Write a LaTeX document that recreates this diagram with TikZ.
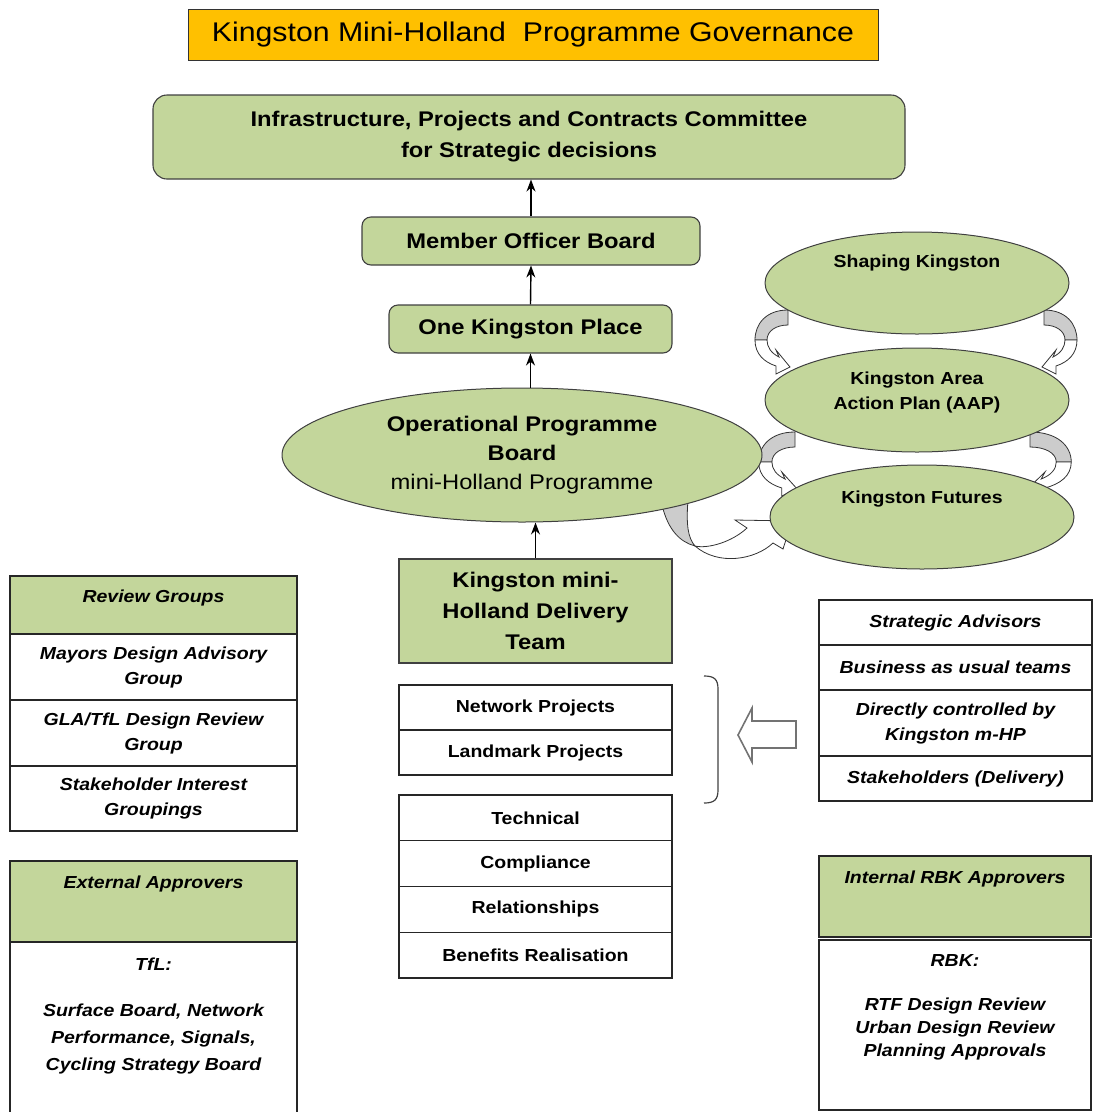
\documentclass[tikz,border=0pt]{standalone}
\usepackage{fontspec}
\setmainfont[FakeStretch=1.12]{Liberation Sans}
\usetikzlibrary{shapes.geometric,positioning,arrows.meta}

\definecolor{kgreen}{HTML}{C3D69B}
\definecolor{korange}{HTML}{FFC000}

\newcommand{\ftitle}{\fontsize{27}{32}\selectfont}
\newcommand{\fbig}{\fontsize{21.2}{31}\selectfont\bfseries}
\newcommand{\fopb}{\fontsize{21.2}{29}\selectfont}
\newcommand{\fsmall}{\fontsize{17.4}{25}\selectfont\bfseries}
\newcommand{\fital}{\fontsize{17.4}{25}\selectfont\bfseries\itshape}

\tikzstyle{titlebox} = [draw=black!80, rectangle, fill=korange, minimum width=690pt, minimum height=51pt, font=\ftitle, line width=1pt]
\tikzstyle{block} = [draw=black!75, rectangle, rounded corners=9pt, fill=kgreen, align=center, font=\fbig, line width=1.1pt]
\tikzstyle{ellip} = [draw=black!75, ellipse, fill=kgreen, align=center, inner sep=0pt, line width=1pt]
\tikzstyle{cell} = [draw=black!85, rectangle, fill=white, minimum width=273pt, minimum height=45pt, align=center, font=\fsmall, outer sep=0pt, inner sep=0pt, line width=1.1pt]
\tikzstyle{rcell} = [cell, font=\fital]
\tikzstyle{grp} = [cell, minimum width=287pt, minimum height=66pt, font=\fital]
\tikzstyle{hdr} = [grp, fill=kgreen]
\tikzstyle{lbl} = [anchor=north, inner sep=0pt, align=center, font=\fital]
\tikzstyle{arr} = [-{Stealth[length=12pt,width=9pt]}, line width=1.4pt]

% twisted block arrow between two ellipses
\newcommand{\turnarrow}[3]{%
  \begin{scope}[shift={(#1,#2)}, xscale=#3, line width=0.8pt]
    \filldraw[fill=black!20, draw=black!80] (0,0) .. controls (-22,0) and (-33,14) .. (-33,30) -- (-21,30) .. controls (-21,21) and (-12,15) .. (0,15) -- cycle;
    \filldraw[fill=white, draw=black!80] (-33,30) .. controls (-33,44) and (-24,52) .. (-12,56) -- (-12,64) -- (2,57) -- (-12,40) -- (-9,47) .. controls (-17,43) and (-21,37) .. (-21,30) -- cycle;
  \end{scope}}

\begin{document}
\begin{tikzpicture}[x=1pt, y=-1pt, line width=1.1pt]
\useasboundingbox (0,0) rectangle (1093,1112);

% arrows under the ellipses
\turnarrow{788}{310}{1}
\turnarrow{1044}{310}{-1}
\turnarrow{795}{432}{1.1}
\turnarrow{1030}{432}{-1.25}
\filldraw[fill=black!20, draw=black!80, line width=0.8pt] (662,505) -- (688,500) .. controls (686,525) and (688,538) .. (695,546) .. controls (680,542) and (668,530) .. (662,505) -- cycle;
\filldraw[fill=white, draw=black!80, line width=0.8pt] (695,546) .. controls (708,549) and (732,542) .. (747,528) -- (735,520) -- (792,521) -- (783,549) -- (773,543) .. controls (755,560) and (718,566) .. (695,546) -- cycle;

\node[titlebox] (title) at (533,35) {Kingston Mini-Holland\ \ Programme Governance};

\node[block, minimum width=752pt, minimum height=84pt, rounded corners=14pt] (ipcc) at (529,137) {Infrastructure, Projects and Contracts Committee\\for Strategic decisions};
\node[block, minimum width=338pt, minimum height=48pt] (mob) at (531,241) {Member Officer Board};
\node[block, minimum width=283pt, minimum height=48pt] (okp) at (530.5,329) {One Kingston Place};
\node[ellip, minimum width=480pt, minimum height=134pt, font=\fopb] (opb) at (522,455) {\textbf{Operational Programme}\\\textbf{Board}\\mini-Holland Programme};
\node[block, sharp corners, minimum width=273pt, minimum height=104pt] (team) at (535.5,611) {Kingston mini-\\Holland Delivery\\Team};

\node[ellip, minimum width=304pt, minimum height=102pt, label={[font=\fsmall, yshift=20pt]center:Shaping Kingston}] (shapek) at (917,283) {};
\node[ellip, minimum width=304pt, minimum height=104pt, label={[font=\fsmall, align=center, yshift=8pt]center:{Kingston Area\\Action Plan (AAP)}}] (aap) at (917,400) {};
\node[ellip, minimum width=304pt, minimum height=104pt, label={[font=\fsmall, yshift=18pt]center:Kingston Futures}] (futk) at (922,517) {};

\draw[arr] (opb.north -| okp.south) -- (okp.south);
\draw[arr] (okp.north) -- (mob.south);
\draw[arr] (mob.north) -- (mob.north |- ipcc.south);
\draw[arr] (team.north) -- (team.north |- opb.south);

% project lists
\node[cell] (netp) at (535.5,707.5) {Network Projects};
\node[cell, below=0pt of netp] (landp) {Landmark Projects};
\node[cell, minimum height=45.75pt] (tech) at (535.5,817.9) {Technical};
\node[cell, minimum height=45.75pt, below=0pt of tech] (comp) {Compliance};
\node[cell, minimum height=45.75pt, below=0pt of comp] (rel) {Relationships};
\node[cell, minimum height=45.75pt, below=0pt of rel] (benef) {Benefits Realisation};

\draw[black!75, line width=1.2pt] (704,676) .. controls (714,676) and (718,679) .. (718,689) -- (718,790) .. controls (718,800) and (714,803) .. (704,803);
\draw[black!55, line width=1.6pt, fill=white] (738,735) -- (752,708) -- (752,721) -- (796,721) -- (796,748) -- (752,748) -- (752,762) -- cycle;

% support teams
\node[rcell] (stadv) at (955.5,622.5) {Strategic Advisors};
\node[rcell, below=0pt of stadv] (bau) {Business as usual teams};
\node[rcell, minimum height=66pt, below=0pt of bau] (direct) {Directly controlled by\\Kingston m-HP};
\node[rcell, below=0pt of direct] (stdel) {Stakeholders (Delivery)};

% review groups
\node[hdr, minimum height=58pt, label={[lbl, yshift=-13pt]north:Review Groups}] (revg) at (153.5,605) {};
\node[grp, below=0pt of revg] (mdag) {Mayors Design Advisory\\Group};
\node[grp, below=0pt of mdag] (glag) {GLA/TfL Design Review\\Group};
\node[grp, minimum height=65pt, below=0pt of glag] (shig) {Stakeholder Interest\\Groupings};

% approvers
\node[hdr, minimum height=81pt, label={[lbl, yshift=-14pt]north:External Approvers}] (extap) at (153.5,901.5) {};
\node[grp, minimum height=176pt, below=0pt of extap, label={[lbl, font=\fontsize{17.4}{27}\selectfont\bfseries\itshape, yshift=-15pt]north:{TfL:\\[19pt]Surface Board, Network\\Performance, Signals,\\Cycling Strategy Board}}] (tfl) {};

\node[hdr, minimum width=272pt, minimum height=81pt, label={[lbl, yshift=-14pt]north:Internal RBK Approvers}] (intap) at (955,896.5) {};
\node[grp, minimum width=272pt, minimum height=170pt, label={[lbl, font=\fontsize{17.4}{23}\selectfont\bfseries\itshape, yshift=-14pt]north:{RBK:\\[21pt]RTF Design Review\\Urban Design Review\\Planning Approvals}}] (rbk) at (955,1025) {};

\end{tikzpicture}
\end{document}
